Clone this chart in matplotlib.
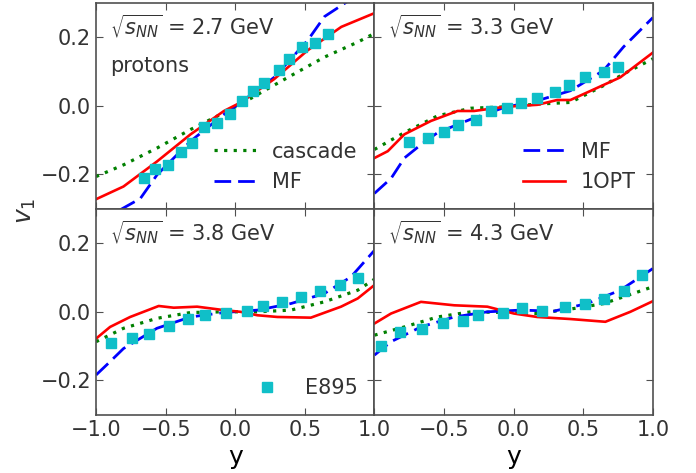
import numpy as np
import matplotlib
matplotlib.use("Agg")
import matplotlib.pyplot as plt

# E895 proton v1 and model curves (cascade, MF, 1OPT) at four energies
energies = ["2.7", "3.3", "3.8", "4.3"]

# --- 2.7 GeV ---
e895_y_27 = [-0.658, -0.574, -0.483, -0.389, -0.309, -0.225, -0.134, -0.037,
             0.045, 0.126, 0.203, 0.316, 0.389, 0.478, 0.574, 0.665]
e895_v1_27 = [-0.211, -0.183, -0.172, -0.134, -0.108, -0.062, -0.049, -0.025,
              0.015, 0.042, 0.066, 0.105, 0.137, 0.172, 0.183, 0.209]
casc_y_27 = [-1.0, -0.803, -0.562, -0.321, -0.081, 0.040, 0.208, 0.401, 0.641, 0.882, 1.0]
casc_v1_27 = [-0.206, -0.172, -0.123, -0.069, -0.020, 0.005, 0.044, 0.088, 0.142, 0.186, 0.211]
mf_y_27 = [-0.827, -0.682, -0.562, -0.321, -0.081, 0.040, 0.280, 0.521, 0.641, 0.810, 1.0]
mf_v1_27 = [-0.303, -0.270, -0.201, -0.103, -0.025, 0.010, 0.083, 0.191, 0.260, 0.305, 0.36]
opt_y_27 = [-1.0, -0.803, -0.562, -0.321, -0.081, 0.040, 0.280, 0.521, 0.762, 1.0]
opt_v1_27 = [-0.272, -0.235, -0.162, -0.083, -0.015, 0.010, 0.078, 0.162, 0.230, 0.270]

# --- 3.3 GeV ---
e895_y_33 = [-0.749, -0.618, -0.503, -0.403, -0.272, -0.160, -0.050, 0.055,
             0.170, 0.296, 0.401, 0.516, 0.647, 0.747]
e895_v1_33 = [-0.105, -0.093, -0.076, -0.056, -0.042, -0.015, -0.005, 0.008,
              0.022, 0.041, 0.061, 0.085, 0.100, 0.113]
casc_y_33 = [-1.0, -0.785, -0.546, -0.308, -0.069, 0.170, 0.408, 0.646, 0.790, 1.0]
casc_v1_33 = [-0.127, -0.078, -0.029, -0.007, -0.003, 0.005, 0.010, 0.059, 0.093, 0.137]
mf_y_33 = [-1.0, -0.880, -0.785, -0.666, -0.546, -0.308, -0.069, 0.170, 0.408, 0.646, 0.790, 1.0]
mf_v1_33 = [-0.255, -0.211, -0.152, -0.113, -0.078, -0.039, -0.005, 0.015, 0.044, 0.103, 0.172, 0.257]
opt_y_33 = [-1.0, -0.904, -0.785, -0.594, -0.403, -0.284, -0.069, 0.170, 0.313, 0.408, 0.528, 0.766, 1.0]
opt_v1_33 = [-0.152, -0.132, -0.083, -0.044, -0.015, -0.015, -0.003, 0.003, 0.017, 0.017, 0.039, 0.083, 0.155]

# --- 3.8 GeV ---
e895_y_38 = [-0.894, -0.743, -0.623, -0.474, -0.341, -0.216, -0.070, 0.087,
             0.200, 0.337, 0.471, 0.606, 0.755, 0.880]
e895_v1_38 = [-0.092, -0.075, -0.066, -0.041, -0.022, -0.010, -0.003, 0.002,
              0.016, 0.029, 0.042, 0.060, 0.079, 0.099]
casc_y_38 = [-1.0, -0.803, -0.563, -0.322, -0.082, 0.159, 0.399, 0.639, 0.880, 1.0]
casc_v1_38 = [-0.087, -0.048, -0.019, -0.002, 0.0, 0.0, 0.005, 0.029, 0.063, 0.095]
mf_y_38 = [-1.0, -0.899, -0.803, -0.563, -0.322, -0.082, 0.159, 0.399, 0.639, 0.832, 1.0]
mf_v1_38 = [-0.184, -0.145, -0.107, -0.048, -0.015, -0.002, 0.005, 0.024, 0.053, 0.102, 0.179]
opt_y_38 = [-1.0, -0.899, -0.755, -0.550, -0.442, -0.274, -0.082, 0.038, 0.159, 0.303,
            0.543, 0.760, 0.880, 1.0]
opt_v1_38 = [-0.078, -0.044, -0.015, 0.017, 0.012, 0.015, 0.005, 0.0, -0.010, -0.015,
             -0.017, 0.015, 0.039, 0.078]

# --- 4.3 GeV ---
e895_y_43 = [-0.952, -0.814, -0.661, -0.511, -0.363, -0.253, -0.074, 0.062,
             0.205, 0.368, 0.516, 0.647, 0.790, 0.921]
e895_v1_43 = [-0.099, -0.058, -0.051, -0.032, -0.027, -0.008, -0.002, 0.010,
              0.003, 0.015, 0.022, 0.036, 0.061, 0.107]
casc_y_43 = [-1.0, -0.785, -0.547, -0.308, -0.069, 0.169, 0.408, 0.647, 1.0]
casc_v1_43 = [-0.068, -0.044, -0.015, 0.0, -0.002, -0.005, 0.008, 0.024, 0.073]
mf_y_43 = [-1.0, -0.881, -0.666, -0.427, -0.189, 0.050, 0.289, 0.527, 0.766, 1.0]
mf_v1_43 = [-0.126, -0.087, -0.044, -0.015, 0.0, 0.005, 0.002, 0.024, 0.063, 0.126]
opt_y_43 = [-1.0, -0.881, -0.666, -0.427, -0.189, 0.002, 0.169, 0.408, 0.659, 0.838, 1.0]
opt_v1_43 = [-0.034, -0.005, 0.029, 0.019, 0.015, -0.005, -0.015, -0.021, -0.029, 0.0, 0.031]

panels = [
    (e895_y_27, e895_v1_27, casc_y_27, casc_v1_27, mf_y_27, mf_v1_27, opt_y_27, opt_v1_27),
    (e895_y_33, e895_v1_33, casc_y_33, casc_v1_33, mf_y_33, mf_v1_33, opt_y_33, opt_v1_33),
    (e895_y_38, e895_v1_38, casc_y_38, casc_v1_38, mf_y_38, mf_v1_38, opt_y_38, opt_v1_38),
    (e895_y_43, e895_v1_43, casc_y_43, casc_v1_43, mf_y_43, mf_v1_43, opt_y_43, opt_v1_43),
]

txt = "#333333"
plt.rcParams.update({
    "font.family": "DejaVu Sans",
    "font.size": 15,
    "text.color": txt,
    "axes.edgecolor": "#505050",
    "axes.linewidth": 1.2,
    "xtick.color": "#505050",
    "ytick.color": "#505050",
    "xtick.labelcolor": txt,
    "ytick.labelcolor": txt,
    "xtick.direction": "in",
    "ytick.direction": "in",
    "xtick.top": True,
    "ytick.right": True,
    "xtick.major.size": 5,
    "ytick.major.size": 5,
})

fig, axes = plt.subplots(2, 2, figsize=(6.96, 4.73), dpi=100, sharex=True, sharey=True)
fig.subplots_adjust(left=0.138, right=0.938, top=0.994, bottom=0.123, hspace=0, wspace=0)

for i, ax in enumerate(axes.flat):
    ey, ev, cy, cv, my, mv, oy, ov = panels[i]
    l_c, = ax.plot(cy, cv, ":", color="green", lw=2.3, dashes=(1, 2), label="cascade")
    l_m, = ax.plot(my, mv, "--", color="blue", lw=2, dashes=(6, 2.5), label="MF")
    l_o, = ax.plot(oy, ov, "-", color="red", lw=1.9, label="1OPT")
    l_e, = ax.plot(ey, ev, "s", color="#10bfc8", ms=7, ls="none", label="E895")
    ax.text(0.05, 0.955, r"$\sqrt{s_{NN}}$ = " + energies[i] + " GeV", transform=ax.transAxes,
            ha="left", va="top", fontsize=15)
    ax.set_xlim(-1, 1)
    ax.set_ylim(-0.3, 0.3)
    ax.set_xticks([-1.0, -0.5, 0.0, 0.5, 1.0])
    ax.set_yticks([-0.2, 0.0, 0.2])
    ax.tick_params(labelsize=15)
    if i == 0:
        ax.text(0.05, 0.74, "protons", transform=ax.transAxes, ha="left", va="top", fontsize=15)
        ax.legend(handles=[l_c, l_m], loc="lower right", frameon=False, fontsize=15,
                  handlelength=2.0, borderaxespad=0.4)
    elif i == 1:
        ax.legend(handles=[l_m, l_o], loc="lower right", frameon=False, fontsize=15,
                  handlelength=2.0, borderaxespad=0.4)
    elif i == 2:
        ax.legend(handles=[l_e], loc="lower right", frameon=False, fontsize=15,
                  handlelength=2.0, borderaxespad=0.4)

# hide the duplicated -1.0 label on the lower right panel
axes[1, 1].get_xticklabels()[0].set_visible(False)
for ax in axes[1]:
    ax.set_xlabel("y", fontsize=18, labelpad=4)
fig.text(0.037, 0.555, r"$v_1$", rotation=90, fontsize=18, ha="center", va="center")

fig.savefig("out.png", dpi=100)
